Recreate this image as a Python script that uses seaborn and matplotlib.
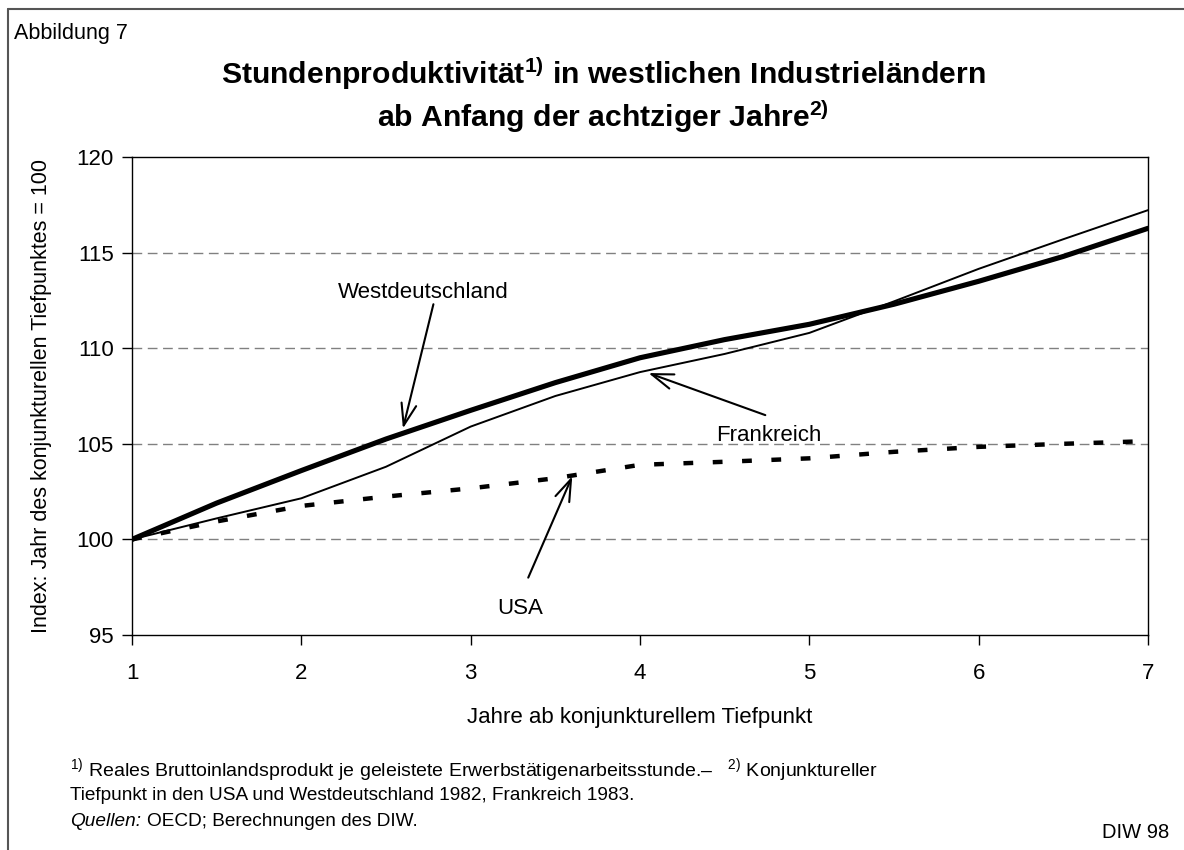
import matplotlib
matplotlib.use("Agg")
import matplotlib.pyplot as plt
import seaborn as sns
import pandas as pd
from matplotlib.lines import Line2D

# ---- data ----
years = [1, 1.5, 2, 2.5, 3, 3.5, 4, 4.5, 5, 5.5, 6, 6.5, 7]
westdeutschland = [100, 101.9, 103.6, 105.25, 106.75, 108.2, 109.5, 110.45, 111.25, 112.3, 113.5, 114.8, 116.27]
frankreich = [100, 101.1, 102.15, 103.8, 105.9, 107.5, 108.75, 109.7, 110.8, 112.45, 114.15, 115.7, 117.22]
usa = [100, 100.94, 101.75, 102.24, 102.67, 103.2, 103.9, 104.06, 104.24, 104.58, 104.84, 105.0, 105.14]
y_ticks = [95, 100, 105, 110, 115, 120]
x_ticks = [1, 2, 3, 4, 5, 6, 7]

sns.set_theme(style="white")
plt.rcParams['font.family'] = ['Liberation Sans', 'DejaVu Sans']
plt.rcParams['text.color'] = 'black'
plt.rcParams['axes.labelcolor'] = 'black'
plt.rcParams['xtick.color'] = 'black'
plt.rcParams['ytick.color'] = 'black'
plt.rcParams['mathtext.fontset'] = 'custom'
plt.rcParams['mathtext.rm'] = 'Liberation Sans'
plt.rcParams['mathtext.bf'] = 'Liberation Sans:bold'
plt.rcParams['mathtext.it'] = 'Liberation Sans:italic'

W, H = 1184, 850
fig = plt.figure(figsize=(W / 100, H / 100), dpi=100)
fig.patch.set_facecolor("white")

def fx(px):
    return px / W

def fy(py):
    return 1 - py / H

ax = fig.add_axes([fx(132), fy(635), fx(1148) - fx(132), fy(157) - fy(635)])

df = pd.DataFrame({"Jahr": years, "Westdeutschland": westdeutschland,
                   "Frankreich": frankreich, "USA": usa})

sns.lineplot(data=df, x="Jahr", y="USA", ax=ax, color="black", linewidth=3.2, zorder=3)
ax.lines[-1].set_dashes((2.2, 4.4))
ax.lines[-1].set_dash_capstyle("butt")
sns.lineplot(data=df, x="Jahr", y="Frankreich", ax=ax, color="black", linewidth=1.4, zorder=4)
sns.lineplot(data=df, x="Jahr", y="Westdeutschland", ax=ax, color="black", linewidth=3.7, zorder=5)

ax.set_xlim(1, 7)
ax.set_ylim(95, 120)
ax.set_xticks(x_ticks)
ax.set_yticks(y_ticks)
ax.set_xticklabels([str(v) for v in x_ticks])
ax.set_yticklabels([str(v) for v in y_ticks])
for v in [100, 105, 110, 115]:
    ax.axhline(v, color="#808080", linewidth=1.0, linestyle=(0, (7, 4)), zorder=1)

for s in ax.spines.values():
    s.set_color("black")
    s.set_linewidth(1.0)
    s.set_visible(True)
ax.tick_params(axis="both", which="major", direction="out", length=7, width=1.0,
               color="black", labelsize=16, labelcolor="black", bottom=True, left=True)
ax.tick_params(axis="x", pad=13)
ax.tick_params(axis="y", pad=6)
ax.set_xlabel("")
ax.set_ylabel("")
ax.grid(False)

# annotations
arrowprops = dict(arrowstyle="->,head_length=1.3,head_width=0.45", color="black", lw=1.5,
                  shrinkA=0, shrinkB=0)
ax.annotate("", xy=(2.60, 105.8), xytext=(2.78, 112.3), arrowprops=arrowprops)
ax.text(2.72, 112.9, "Westdeutschland", ha="center", va="center", fontsize=16)
ax.annotate("", xy=(4.05, 108.7), xytext=(4.74, 106.5), arrowprops=arrowprops)
ax.text(4.76, 105.45, "Frankreich", ha="center", va="center", fontsize=16)
ax.annotate("", xy=(3.60, 103.3), xytext=(3.34, 98.0), arrowprops=arrowprops)
ax.text(3.29, 96.4, "USA", ha="center", va="center", fontsize=16)

# axis labels
fig.text(fx(42), fy(396), "Index: Jahr des konjunkturellen Tiefpunktes = 100",
         rotation=90, ha="center", va="center", fontsize=15.5)
fig.text(fx(640), fy(718), "Jahre ab konjunkturellem Tiefpunkt",
         ha="center", va="center", fontsize=16)

# header and title
fig.text(fx(14), fy(33), "Abbildung 7", ha="left", va="center", fontsize=15.5)
fig.text(fx(603), fy(74), r"Stundenproduktivität$^{\mathbf{1)}}$ in westlichen Industrieländern",
         ha="center", va="center", fontsize=21.7, fontweight="bold")
fig.text(fx(603), fy(117), r"ab Anfang der achtziger Jahre$^{\mathbf{2)}}$",
         ha="center", va="center", fontsize=21.7, fontweight="bold")

# footnotes
fig.text(fx(70), fy(770),
         r"$^{1)}$ Reales Bruttoinlandsprodukt je geleistete Erwerbstätigenarbeitsstunde.–   $^{2)}$ Konjunktureller",
         ha="left", va="center", fontsize=14)
fig.text(fx(70), fy(796), "Tiefpunkt in den USA und Westdeutschland 1982, Frankreich 1983.",
         ha="left", va="center", fontsize=13.7)
t_q = fig.text(fx(70), fy(821), "Quellen:", ha="left", va="center", fontsize=13.7, style="italic")
fig.canvas.draw()
bb = t_q.get_window_extent(renderer=fig.canvas.get_renderer())
fig.text((bb.x1 + 6) / W, fy(821), "OECD; Berechnungen des DIW.", ha="left", va="center", fontsize=13.7)
fig.text(fx(1169), fy(833), "DIW 98", ha="right", va="center", fontsize=14.5)

# outer frame (top and left)
fig.add_artist(Line2D([fx(8), 1.0], [fy(9), fy(9)], color="#555555", linewidth=1.5))
fig.add_artist(Line2D([fx(8), fx(8)], [fy(9), 0.0], color="#555555", linewidth=1.5))

fig.savefig("out.png", dpi=100, facecolor="white")
